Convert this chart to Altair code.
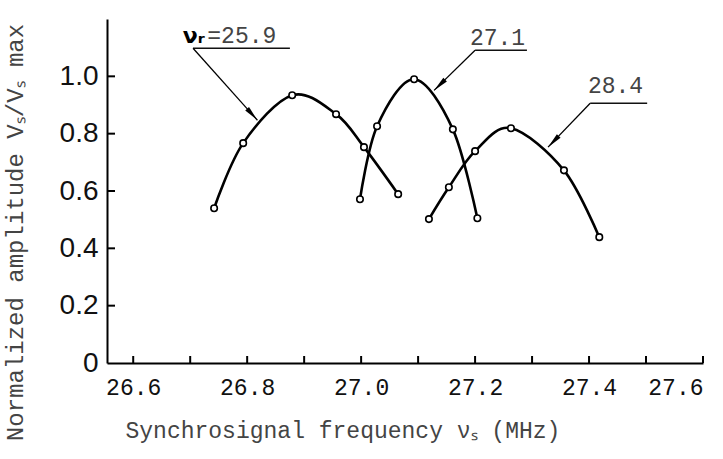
import math
import altair as alt
import pandas as pd

# ---- data ----
f1 = [26.742, 26.793, 26.879, 26.956, 27.005, 27.065]
a1 = [0.540, 0.767, 0.934, 0.868, 0.753, 0.589]
f2 = [26.998, 27.028, 27.093, 27.161, 27.204]
a2 = [0.571, 0.826, 0.990, 0.815, 0.505]
f3 = [27.119, 27.154, 27.200, 27.263, 27.356, 27.418]
a3 = [0.502, 0.613, 0.739, 0.819, 0.672, 0.439]
series_names = ["25.9", "27.1", "28.4"]

x_tick_values = [26.6, 26.7, 26.8, 26.9, 27.0, 27.1, 27.2, 27.3, 27.4, 27.5, 27.6]
x_label_values = [26.6, 26.8, 27.0, 27.2, 27.4, 27.6]
y_tick_values = [0.2, 0.4, 0.6, 0.8, 1.0]
y_label_values = [0, 0.2, 0.4, 0.6, 0.8, 1.0]

# annotation labels (data coordinates)
label_text = ["=25.9", "27.1", "28.4"]
label_x = [26.730, 27.191, 27.398]
label_y = [1.115, 1.108, 0.941]
under_x1 = [26.705, 27.200, 27.402]
under_x2 = [26.875, 27.291, 27.502]
under_y = [1.098, 1.091, 0.906]
tip_x = [26.818, 27.128, 27.328]
tip_y = [0.847, 0.951, 0.753]
prefix_text = ["\u03bd\u1d63"]
prefix_x = [26.687]
prefix_y = [1.115]

X_DOMAIN = [26.554, 27.6]
Y_DOMAIN = [0, 1.2]
W, H = 596, 344

rows = []
for name, fs, as_ in zip(series_names, [f1, f2, f3], [a1, a2, a3]):
    for f, a in zip(fs, as_):
        rows.append({"s": name, "f": f, "a": a})
curves = pd.DataFrame(rows)

kx = W / (X_DOMAIN[1] - X_DOMAIN[0])
ky = H / (Y_DOMAIN[1] - Y_DOMAIN[0])
ann_rows = []
for i in range(3):
    dx = (tip_x[i] - under_x1[i]) * kx
    dy = -(tip_y[i] - under_y[i]) * ky
    ang = math.degrees(math.atan2(dx, -dy)) % 360
    ann_rows.append({
        "t": label_text[i], "lx": label_x[i], "ly": label_y[i],
        "ux1": under_x1[i], "ux2": under_x2[i], "uy": under_y[i],
        "tx": tip_x[i], "ty": tip_y[i], "ang": ang,
    })
ann = pd.DataFrame(ann_rows)
arrow_lines = pd.DataFrame(
    [{"k": i, "x": under_x1[i], "y": under_y[i], "o": 0} for i in range(3)]
    + [{"k": i, "x": tip_x[i], "y": tip_y[i], "o": 1} for i in range(3)]
)

xs = alt.Scale(domain=X_DOMAIN, nice=False, zero=False)
ys = alt.Scale(domain=Y_DOMAIN, nice=False, zero=False)

x_axis = alt.Axis(
    values=x_label_values, labelExpr="format(datum.value, '.1f')",
    labelFont="Liberation Mono", labelFontSize=23, labelColor="#111",
    labelPadding=13, labelFlush=True, labelOverlap=False, labelBound=False,
    ticks=False, tickSize=0, grid=False, domainColor="black", domainWidth=2,
    title="Synchrosignal frequency \u03bd\u209b (MHz)",
    titleFont="Liberation Mono", titleFontSize=23, titleFontWeight="normal",
    titleColor="#444", titleX=18, titleY=67, titleAlign="left",
    titleBaseline="middle", titleAnchor="start",
)
y_axis = alt.Axis(
    values=y_label_values,
    labelExpr="datum.value == 0 ? '0' : format(datum.value, '.1f')",
    labelFont="Liberation Sans", labelFontSize=28, labelColor="#111",
    labelPadding=9, labelOverlap=False, labelFlush=False, labelBound=False,
    ticks=False, tickSize=0, grid=False, domainColor="black", domainWidth=2,
    title="Normalized amplitude V\u209b/V\u209b max",
    titleFont="Liberation Mono", titleFontSize=24, titleFontWeight="normal",
    titleColor="#444", titleAngle=270, titleX=-92, titleY=213,
    titleAlign="center", titleBaseline="middle",
)


def X(field):
    return alt.X(field, scale=xs, axis=x_axis)


def Y(field):
    return alt.Y(field, scale=ys, axis=y_axis)


lines = alt.Chart(curves).mark_line(
    color="black", strokeWidth=2.6, interpolate="cardinal"
).encode(x=X("f:Q"), y=Y("a:Q"), detail="s:N")

points = alt.Chart(curves).mark_point(
    shape="circle", filled=True, fill="white", stroke="black",
    strokeWidth=1.6, size=42, opacity=1,
).encode(x=X("f:Q"), y=Y("a:Q"))

xt = alt.Chart(pd.DataFrame({"t": x_tick_values})).mark_rule(
    color="black", strokeWidth=2
).encode(x=X("t:Q"), y=alt.value(H), y2=alt.value(H - 7))

yt = alt.Chart(pd.DataFrame({"t": y_tick_values})).mark_rule(
    color="black", strokeWidth=2
).encode(y=Y("t:Q"), x=alt.value(0), x2=alt.value(8))

underlines = alt.Chart(ann).mark_rule(color="#111", strokeWidth=1.6).encode(
    x=X("ux1:Q"), x2="ux2:Q", y=Y("uy:Q"),
)
arrows = alt.Chart(arrow_lines).mark_line(color="black", strokeWidth=1.3).encode(
    x=X("x:Q"), y=Y("y:Q"), detail="k:N", order="o:Q",
)
heads = alt.Chart(ann).mark_point(
    shape="M0,0 L0.28,1.7 L-0.28,1.7 Z", filled=True, color="black",
    size=330, opacity=1,
).encode(x=X("tx:Q"), y=Y("ty:Q"), angle=alt.Angle("ang:Q", scale=None))

texts = alt.Chart(ann).mark_text(
    font="Liberation Mono", fontSize=23, color="#444", align="left",
    baseline="alphabetic",
).encode(x=X("lx:Q"), y=Y("ly:Q"), text="t:N")

prefix = alt.Chart(pd.DataFrame({"t": prefix_text, "x": prefix_x, "y": prefix_y})).mark_text(
    font="DejaVu Sans", fontSize=22, fontWeight="bold", color="black",
    align="left", baseline="alphabetic",
).encode(x=X("x:Q"), y=Y("y:Q"), text="t:N")

chart = alt.layer(
    lines, points, xt, yt, underlines, arrows, heads, texts, prefix
).properties(
    width=W, height=H,
    autosize=alt.AutoSizeParams(type="none"),
    padding={"left": 107, "top": 19, "right": 20, "bottom": 96},
    background="white",
).configure_view(stroke=None)

chart.save("out.html", embed_options={"renderer": "svg", "actions": False})
